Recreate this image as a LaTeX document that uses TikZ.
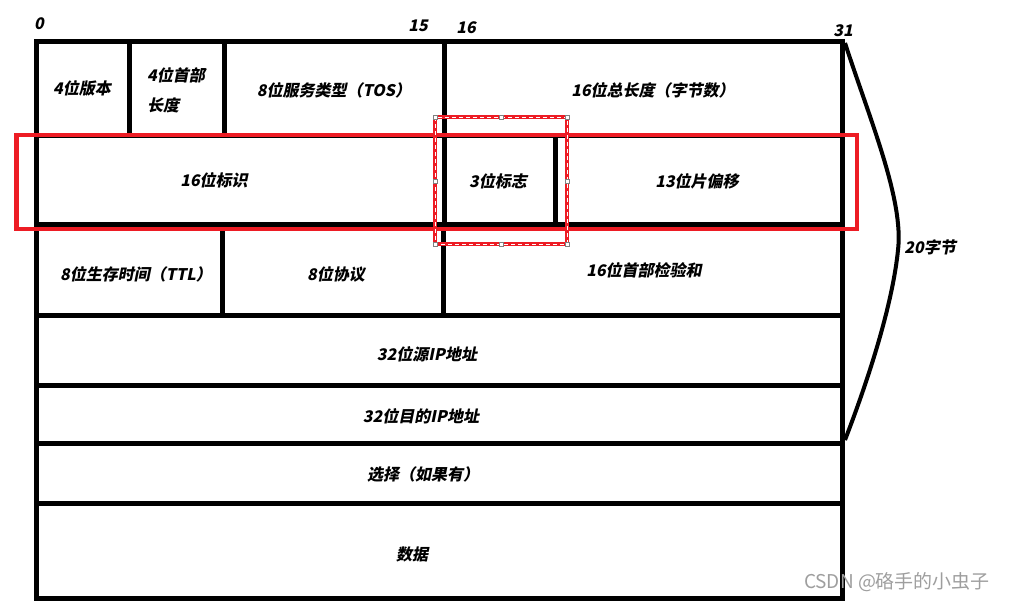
\documentclass[tikz,border=0pt]{standalone}
\usepackage{fontspec}
\setmainfont{Noto Sans CJK SC}[FakeSlant=0.2]
\newfontfamily\wmfont{Noto Sans CJK SC}
\usepackage{xcolor}
\usepackage{tikz}
\usetikzlibrary{positioning}
\definecolor{paintred}{HTML}{ED1C24}

\begin{document}
\begin{tikzpicture}[x=1pt, y=-1pt, font=\fontsize{16}{30}\selectfont\bfseries,
	cell/.style={line width=5pt},
	lbl/.style={inner sep=0pt, anchor=center},
	mark box/.style={draw=paintred, line width=4.5pt},
	sel box/.style={draw=paintred, line width=4pt},
	handle/.style={draw=gray, fill=white, line width=0.6pt, minimum size=4pt, inner sep=0pt}]
	\useasboundingbox (0,0) rectangle (1026,602);
	% Header fields:
	\draw[cell] (36,42) rectangle (129,135);
	\draw[cell] (129,42) rectangle (224,135);
	\draw[cell] (224,42) rectangle (444,135);
	\draw[cell] (444,42) rectangle (842,135);
	\draw[cell] (36,135) rectangle (444,224);
	\draw[cell] (444,135) rectangle (555,224);
	\draw[cell] (555,135) rectangle (842,224);
	\draw[cell] (36,224) rectangle (222,315);
	\draw[cell] (222,224) rectangle (443,315);
	\draw[cell] (443,224) rectangle (842,315);
	\draw[cell] (36,315) rectangle (842,385);
	\draw[cell] (36,385) rectangle (842,443);
	\draw[cell] (36,443) rectangle (842,503);
	\draw[cell] (36,503) rectangle (842,598);
	% Labels:
	\node[lbl](N1) at (82,88){4位版本};
	\node[lbl, align=left](N2) at (176,90){4位首部\\长度};
	\node[lbl](N3) at (334,90){8位服务类型（TOS）};
	\node[lbl](N4) at (653,90){16位总长度（字节数）};
	\node[lbl](N5) at (214,180){16位标识};
	\node[lbl](N6) at (498,181){3位标志};
	\node[lbl](N7) at (697,181){13位片偏移};
	\node[lbl](N8) at (136,274){8位生存时间（TTL）};
	\node[lbl](N9) at (336,274){8位协议};
	\node[lbl](N10) at (644,270){16位首部检验和};
	\node[lbl](N11) at (427,354){32位源IP地址};
	\node[lbl](N12) at (421,416){32位目的IP地址};
	\node[lbl](N13) at (423,474){选择（如果有）};
	\node[lbl](N14) at (412,554){数据};
	% Bit numbers:
	\node[lbl](B0) at (39,24){0};
	\node[lbl](B15) at (418,26){15};
	\node[lbl](B16) at (466,28){16};
	\node[lbl](B31) at (843,31){31};
	% 20 bytes brace:
	\coordinate (C1) at (845,43);
	\coordinate (C2) at (845,440);
	\draw[line width=4pt] (C1) .. controls (870,120) and (904,200) .. (898,250) .. controls (893,300) and (872,370) .. (C2);
	\node[lbl](N15) at (930,247){20字节};
	% Marking boxes:
	\draw[mark box] (16.5,135) rectangle (857,229);
	\draw[sel box] (435,117) rectangle (567,244);
	\draw[white, line width=0.8pt, dash pattern=on 4pt off 3pt] (435,117) rectangle (567,244);
	\foreach \p [count=\i] in {(435,117),(501,117),(567,117),(435,181),(567,181),(435,244),(501,244),(567,244)}
		\node[handle](H\i) at \p {};
	\node[lbl, font=\wmfont\fontsize{19}{22}\selectfont, text=black!38](W) at (897,582){CSDN @硌手的小虫子};
\end{tikzpicture}
\end{document}
